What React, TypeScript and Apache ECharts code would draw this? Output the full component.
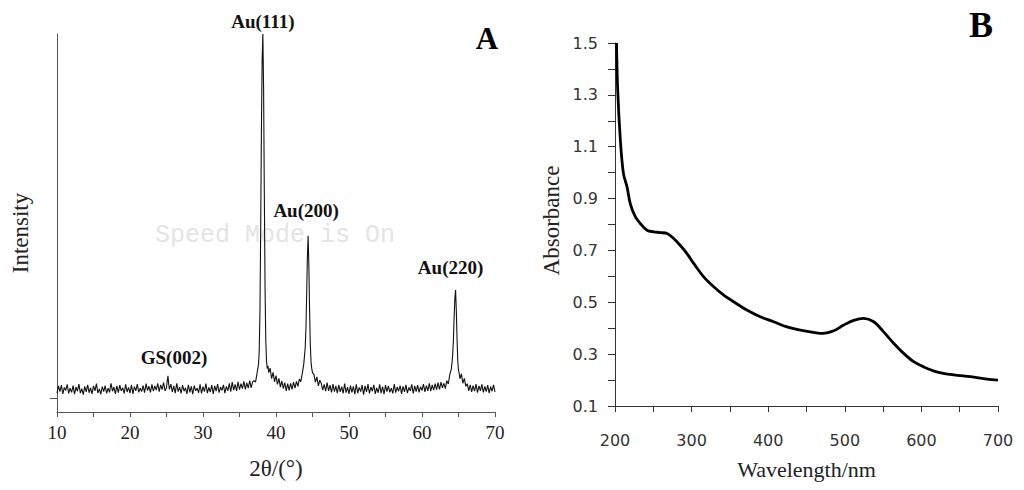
import React, { useEffect, useRef } from "react";
import * as echarts from "echarts";

// ---------- Panel A: XRD pattern (2θ in degrees, intensity in arbitrary units) ----------
// uniformly sampled baseline segments (start angle, 0.2° step, intensity values)
const xrdStep = 0.2;
const baseSeg1Start = 10.0;
const baseSeg1 = [
  5.0, 6.9, 5.4, 7.1, 4.8, 6.5, 5.7, 7.3, 4.9, 6.3,
  5.2, 7.0, 4.7, 6.6, 5.5, 7.4, 5.0, 6.2, 4.6, 6.8,
  5.3, 7.2, 5.1, 6.4, 4.8, 6.9, 5.6, 7.5, 5.0, 6.1,
  4.7, 6.7, 5.4, 7.0, 4.9, 6.3, 5.2, 7.6, 5.5, 6.6,
  4.8, 6.9, 5.1, 7.1, 5.6, 6.4, 4.9, 7.3, 5.3, 6.5,
  5.0, 7.2, 4.8, 6.7, 5.6, 7.4, 5.2, 6.3, 5.4, 7.0,
  5.1, 7.5, 5.7, 6.8, 5.2, 7.3, 5.5, 6.9, 5.8, 7.6,
  5.4, 7.2, 5.9, 7.8, 5.6,
];
const peakGS002: [number, number][] = [
  [25.0, 6.4], [25.1, 8.2], [25.2, 9.6], [25.3, 7.4], [25.4, 6.0],
];
const baseSeg2Start = 25.6;
const baseSeg2 = [
  7.4, 5.3, 6.9, 5.0, 7.6, 5.4, 6.6, 4.9, 7.1, 5.5,
  6.4, 4.8, 7.2, 5.2, 6.8, 4.7, 7.0, 5.6, 6.3, 5.1,
  7.3, 4.9, 6.7, 5.4, 7.5, 5.0, 6.5, 5.3, 7.1, 4.8,
  6.9, 5.5, 7.4, 5.1, 6.6, 5.7, 7.2, 5.0, 6.8, 5.6,
  7.6, 5.4, 7.9, 5.8, 7.3, 5.6, 8.0, 5.9, 7.5, 6.2,
  8.1, 6.0, 7.7, 6.3, 8.3, 6.4, 8.0,
];
const peakAu111: [number, number][] = [
  [37.0, 8.3], [37.2, 7.9], [37.4, 10.2], [37.6, 12.5], [37.7, 16], [37.8, 26],
  [37.9, 48], [38.0, 74], [38.1, 93], [38.2, 100], [38.3, 86], [38.4, 58],
  [38.5, 33], [38.6, 19], [38.7, 13.5], [38.8, 11.5], [38.9, 12.2], [39.0, 10.4],
  [39.2, 11.6], [39.4, 8.8], [39.6, 10.5], [39.8, 8.0], [40.0, 9.6], [40.2, 7.3],
  [40.4, 8.9], [40.6, 6.6], [40.8, 8.2], [41.0, 6.2], [41.2, 7.8], [41.4, 5.6],
  [41.6, 7.5], [41.8, 5.7], [42.0, 7.6], [42.2, 6.0], [42.4, 7.9], [42.6, 6.3],
  [42.8, 8.1], [43.0, 6.8], [43.2, 8.7], [43.4, 8.0],
];
const peakAu200: [number, number][] = [
  [43.6, 10.2], [43.8, 12.6], [44.0, 17], [44.1, 22], [44.2, 31], [44.3, 41],
  [44.4, 46.6], [44.5, 39], [44.6, 27], [44.7, 18], [44.8, 13.2], [44.9, 11.5],
  [45.0, 10.4], [45.2, 9.9], [45.4, 7.9], [45.6, 9.3], [45.8, 6.9], [46.0, 8.4],
];
const baseSeg3Start = 46.2;
const baseSeg3 = [
  7.6, 5.8, 7.3, 5.5, 7.8, 5.6, 7.1, 5.2, 7.4, 5.4,
  6.9, 5.0, 7.2, 5.3, 6.7, 4.9, 7.5, 5.1, 6.6, 4.8,
  7.0, 5.2, 6.8, 4.7, 7.3, 5.0, 6.5, 5.4, 7.1, 4.6,
  6.9, 5.3, 7.4, 4.9, 6.6, 5.5, 7.2, 4.8, 6.4, 5.1,
  7.3, 5.0, 6.7, 4.7, 7.1, 5.4, 6.9, 5.2, 6.3, 4.9,
  7.4, 5.1, 6.6, 5.5, 7.0, 4.8, 6.8, 5.3, 7.2, 5.0,
  6.5, 5.6, 7.3, 4.9, 6.9, 5.4, 7.1, 5.2, 6.7, 5.7,
  7.4, 5.3, 7.0, 5.6, 7.6, 5.5, 7.2, 5.8, 7.5, 5.9,
  7.8, 6.0, 7.9, 6.4,
];
const peakAu220: [number, number][] = [
  [63.0, 7.6], [63.2, 6.2], [63.4, 8.3], [63.6, 7.4], [63.8, 9.8], [64.0, 11.2],
  [64.1, 12.8], [64.2, 15], [64.3, 19], [64.4, 25], [64.5, 30], [64.6, 32.3],
  [64.7, 27], [64.8, 19.5], [64.9, 13.5], [65.0, 11], [65.1, 10.2], [65.2, 8.8],
  [65.4, 10.1], [65.6, 7.6], [65.8, 8.9], [66.0, 6.8],
];
const baseSeg4Start = 66.2;
const baseSeg4 = [
  7.5, 5.6, 7.2, 5.3, 7.0, 5.5, 7.4, 5.1, 6.9, 5.6,
  7.3, 5.2, 6.8, 5.4, 7.1, 5.0, 6.7, 5.5, 7.2, 5.3,
];
const xrdPeakLabels = ["GS(002)", "Au(111)", "Au(200)", "Au(220)"];
const xrdPeakPositions: [number, number][] = [
  [25.2, 9.6], [38.2, 100], [44.4, 46.6], [64.6, 32.3],
];
const xrdPeakLabelOffsets: [number, number][] = [[6, -18], [0, -13], [-2, -25], [-5, -22]];
const xrdTickValues = [10, 20, 30, 40, 50, 60, 70];

// ---------- Panel B: UV-vis absorption spectrum ----------
const uvWavelength = [
  202, 203.5, 207, 211, 215.7, 220, 226.5, 233, 241.8, 250.5, 259, 268, 276.6, 285,
  294, 302.7, 315.8, 328.8, 341.9, 355, 372, 389.7, 407, 424.5, 442, 459, 472,
  485.5, 498.5, 511.6, 524.6, 537.7, 550.7, 563.8, 576.8, 589.9, 603, 620, 642,
  664, 685.7, 700,
];
const uvAbsorbance = [
  1.5, 1.32, 1.125, 0.997, 0.945, 0.88, 0.83, 0.804, 0.778, 0.772, 0.769, 0.765,
  0.746, 0.72, 0.688, 0.65, 0.598, 0.56, 0.528, 0.502, 0.47, 0.444, 0.425, 0.405,
  0.393, 0.384, 0.38, 0.39, 0.412, 0.43, 0.438, 0.425, 0.386, 0.342, 0.303, 0.271,
  0.251, 0.232, 0.22, 0.213, 0.204, 0.2,
];

const serif = '"Liberation Serif", "Times New Roman", serif';
const sans = '"DejaVu Sans", Verdana, sans-serif';

function uniform(start: number, vals: number[]): [number, number][] {
  return vals.map((v, i) => [Math.round((start + i * xrdStep) * 100) / 100, v]);
}

export default function App() {
  const ref = useRef<HTMLDivElement>(null);
  useEffect(() => {
    document.body.style.margin = "0";
    if (!ref.current) return;
    const chart = echarts.init(ref.current, undefined, { renderer: "svg" });
    const xrdData = [
      ...uniform(baseSeg1Start, baseSeg1),
      ...peakGS002,
      ...uniform(baseSeg2Start, baseSeg2),
      ...peakAu111,
      ...peakAu200,
      ...uniform(baseSeg3Start, baseSeg3),
      ...peakAu220,
      ...uniform(baseSeg4Start, baseSeg4),
    ];
    const uvData = uvWavelength.map((w, i) => [w, uvAbsorbance[i]]);

    const option: any = {
      animation: false,
      backgroundColor: "#fff",
      grid: [
        { left: 57, top: 34, width: 438, height: 378 },
        { left: 615, top: 43, width: 383, height: 363 },
      ],
      xAxis: [
        {
          gridIndex: 0,
          type: "value",
          min: 10,
          max: 70,
          interval: 5,
          splitLine: { show: false },
          axisLine: { lineStyle: { color: "#555", width: 1 } },
          axisTick: { length: 5, lineStyle: { color: "#555" } },
          axisLabel: {
            formatter: (v: number) => (xrdTickValues.includes(v) ? String(v) : ""),
            fontFamily: serif,
            fontSize: 19,
            color: "#222",
            margin: 11,
          },
          name: "2θ/(°)",
          nameLocation: "middle",
          nameGap: 45,
          nameTextStyle: { fontFamily: serif, fontSize: 23, color: "#222" },
        },
        {
          gridIndex: 1,
          type: "value",
          min: 200,
          max: 700,
          interval: 50,
          splitLine: { show: false },
          axisLine: { lineStyle: { color: "#333", width: 1 } },
          axisTick: { length: 6, lineStyle: { color: "#333" } },
          axisLabel: {
            formatter: (v: number) => (v % 100 === 0 ? String(v) : ""),
            fontFamily: sans,
            fontSize: 16,
            color: "#333",
            margin: 26,
          },
          name: "Wavelength/nm",
          nameLocation: "middle",
          nameGap: 52,
          nameTextStyle: { fontFamily: serif, fontSize: 22, color: "#222" },
        },
      ],
      yAxis: [
        {
          gridIndex: 0,
          type: "value",
          min: 0,
          max: 100,
          splitLine: { show: false },
          axisLine: { show: true, lineStyle: { color: "#555", width: 1 } },
          axisTick: { show: true, length: 7, customValues: [3.7], lineStyle: { color: "#555" } },
          axisLabel: { show: false },
          name: "Intensity",
          nameLocation: "middle",
          nameGap: 25,
          nameTextStyle: { fontFamily: serif, fontSize: 23, color: "#222", padding: [0, 20, 0, 0] },
        },
        {
          gridIndex: 1,
          type: "value",
          min: 0.1,
          max: 1.5,
          interval: 0.1,
          splitLine: { show: false },
          axisLine: { show: true, lineStyle: { color: "#333", width: 1 } },
          axisTick: { show: true, length: 7, lineStyle: { color: "#333" } },
          axisLabel: {
            formatter: (v: number) => {
              const k = Math.round(v * 10);
              return k % 2 === 1 ? (k / 10).toFixed(1) : "";
            },
            fontFamily: sans,
            fontSize: 16,
            color: "#333",
            margin: 17,
          },
          name: "Absorbance",
          nameLocation: "middle",
          nameGap: 52,
          nameTextStyle: { fontFamily: serif, fontSize: 23, color: "#222", padding: [0, 0, 0, 8] },
        },
      ],
      series: [
        {
          type: "line",
          xAxisIndex: 0,
          yAxisIndex: 0,
          data: xrdData,
          showSymbol: false,
          lineStyle: { color: "#111", width: 1.1 },
          markPoint: {
            symbol: "circle",
            symbolSize: 0,
            label: {
              show: true,
              position: "inside",
              formatter: "{b}",
              fontFamily: serif,
              fontWeight: "bold",
              fontSize: 19,
              color: "#111",
            },
            data: xrdPeakLabels.map((n, i) => ({
              name: n,
              coord: xrdPeakPositions[i],
              label: { offset: xrdPeakLabelOffsets[i] },
            })),
          },
        },
        {
          type: "line",
          xAxisIndex: 1,
          yAxisIndex: 1,
          data: uvData,
          showSymbol: false,
          smooth: 0.35,
          lineStyle: { color: "#000", width: 2.8 },
        },
      ],
      graphic: [
        {
          type: "text",
          x: 155,
          y: 235,
          silent: true,
          style: {
            text: "Speed Mode is On",
            font: '25px "Liberation Mono", "DejaVu Sans Mono", monospace',
            fill: "#e4e4e4",
            align: "left",
            verticalAlign: "middle",
          },
        },
        {
          type: "text",
          x: 487,
          y: 38,
          style: {
            text: "A",
            font: 'bold 31px "Liberation Serif", serif',
            fill: "#000",
            align: "center",
            verticalAlign: "middle",
          },
        },
        {
          type: "text",
          x: 981,
          y: 25,
          style: {
            text: "B",
            font: 'bold 36px "Liberation Serif", serif',
            fill: "#000",
            align: "center",
            verticalAlign: "middle",
          },
        },
      ],
    };
    chart.setOption(option);
    return () => chart.dispose();
  }, []);
  return <div ref={ref} style={{ width: 1024, height: 490 }} />;
}
